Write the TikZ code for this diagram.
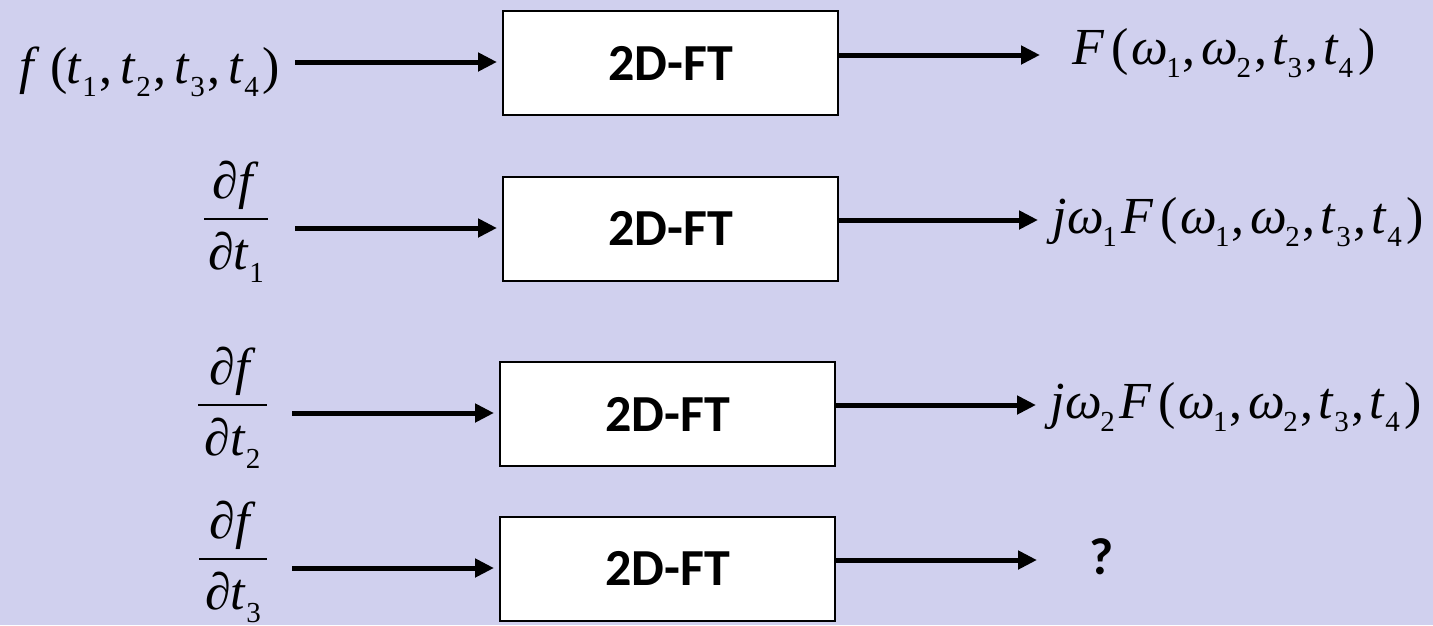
\documentclass[tikz,border=0pt]{standalone}
\usepackage{fontspec}
\setmainfont{Liberation Serif}
\newfontfamily\calib{Carlito}
\usetikzlibrary{arrows.meta}
\definecolor{bgcol}{RGB}{208,208,238}
\newcommand\mainsz{\fontsize{52}{60}\selectfont}
\newcommand\sbs[1]{\raisebox{-0.25em}{\fontsize{29}{30}\selectfont #1}}
\newcommand\vi[1]{\textit{#1}}
% fraction: width, numerator, denominator; baseline at bottom of bar
\newcommand\myfrac[3]{\hbox{\vbox{\hbox to #1{\hfil#2\hfil}\kern8pt\hrule height 2.5pt}\kern-#1\vtop{\kern12pt\hbox to #1{\hfil#3\hfil}}}}
\begin{document}
\begin{tikzpicture}[x=1pt,y=-1pt,
  box/.style={draw=black, line width=2pt, fill=white, minimum width=335pt, minimum height=104pt, inner sep=0pt, font=\calib\bfseries\fontsize{52}{60}\selectfont},
  arr/.style={line width=5pt, -{Triangle[length=19pt,width=18pt]}},
  lbl/.style={inner sep=0pt, font=\mainsz},
  qm/.style={inner sep=0pt, font=\calib\bfseries\fontsize{52}{60}\selectfont}]
\fill[bgcol] (0,0) rectangle (1433,625);
\useasboundingbox (0,0) rectangle (1433,625);

% boxes
\node[box] (b1) at (670.5,63) {2D-FT};
\node[box] (b2) at (670.5,228.5) {2D-FT};
\node[box] (b3) at (667.5,414) {2D-FT};
\node[box] (b4) at (667.5,568.5) {2D-FT};

% left labels
\node[lbl, anchor=base west] (in1) at (19,83) {\vi{f}\kern11pt(\kern-1pt\vi{t}\sbs{1}\kern3pt,\kern8pt\vi{t}\sbs{2}\kern3pt,\kern8pt\vi{t}\sbs{3}\kern3pt,\kern8pt\vi{t}\sbs{4}\kern4pt)};
\node[lbl, anchor=base] (in2) at (236,220.25) {\myfrac{64pt}{∂\vi{f}}{∂\vi{t}\sbs{1}}};
\node[lbl, anchor=base] (in3) at (232.5,406.25) {\myfrac{69pt}{∂\vi{f}}{∂\vi{t}\sbs{2}}};
\node[lbl, anchor=base] (in4) at (233,560.25) {\myfrac{68pt}{∂\vi{f}}{∂\vi{t}\sbs{3}}};

% arrow start / end points
\coordinate (s1) at (295,62);
\coordinate (s2) at (295,228);
\coordinate (s3) at (292,413);
\coordinate (s4) at (292,568);
\coordinate (e1) at (1040,55);
\coordinate (e2) at (1038,220);
\coordinate (e3) at (1036,405);
\coordinate (e4) at (1037,560);

\draw[arr, shorten >=5pt] (s1) -- (s1 -| b1.west);
\draw[arr, shorten >=5pt] (s2) -- (s2 -| b2.west);
\draw[arr, shorten >=5pt] (s3) -- (s3 -| b3.west);
\draw[arr, shorten >=5pt] (s4) -- (s4 -| b4.west);

\draw[arr] (e1 -| b1.east) -- (e1);
\draw[arr] (e2 -| b2.east) -- (e2);
\draw[arr] (e3 -| b3.east) -- (e3);
\draw[arr] (e4 -| b4.east) -- (e4);

% right labels
\node[lbl, anchor=base west] (out1) at (1072,64) {\vi{F}\kern7pt(\kern3pt\vi{ω}\kern-2pt\sbs{1}\kern2pt,\kern6pt\vi{ω}\kern-2pt\sbs{2}\kern3pt,\kern5pt\vi{t}\sbs{3}\kern3pt,\kern5pt\vi{t}\sbs{4}\kern5pt)};
\node[lbl, anchor=base west] (out2) at (1052,233) {\vi{j}\kern1pt\vi{ω}\kern-2pt\sbs{1}\kern5pt\vi{F}\kern6pt(\kern3pt\vi{ω}\kern-2pt\sbs{1}\kern2pt,\kern6pt\vi{ω}\kern-2pt\sbs{2}\kern3pt,\kern5pt\vi{t}\sbs{3}\kern3pt,\kern5pt\vi{t}\sbs{4}\kern5pt)};
\node[lbl, anchor=base west] (out3) at (1050,418) {\vi{j}\kern1pt\vi{ω}\kern-2pt\sbs{2}\kern5pt\vi{F}\kern6pt(\kern3pt\vi{ω}\kern-2pt\sbs{1}\kern2pt,\kern6pt\vi{ω}\kern-2pt\sbs{2}\kern3pt,\kern5pt\vi{t}\sbs{3}\kern3pt,\kern5pt\vi{t}\sbs{4}\kern5pt)};
\node[qm] (out4) at (1102,557) {?};
\end{tikzpicture}
\end{document}
